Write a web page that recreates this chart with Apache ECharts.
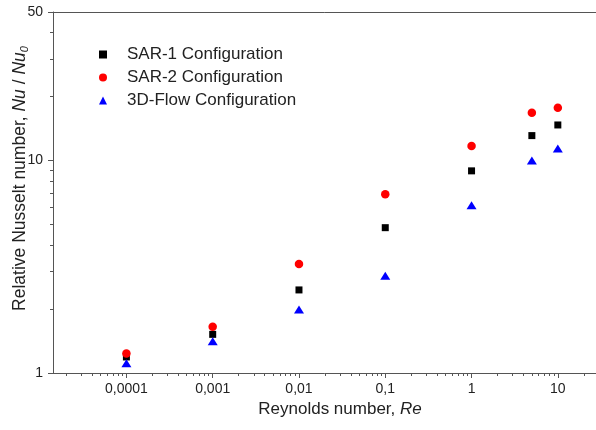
<!DOCTYPE html>
<html>
<head>
<meta charset="utf-8">
<script src="https://cdn.jsdelivr.net/npm/echarts@6/dist/echarts.min.js"></script>
<style>
  html, body { margin: 0; padding: 0; background: #fff; }
  #chart { width: 596px; height: 430px; }
</style>
</head>
<body>
<div id="chart"></div>
<script>
// Reynolds numbers (x) and relative Nusselt number per configuration
const reynolds = [0.0001, 0.001, 0.01, 0.1, 1, 5, 10];
const sar1 = [1.19, 1.52, 2.46, 4.83, 8.94, 13.1, 14.7];
const sar2 = [1.235, 1.65, 3.26, 6.94, 11.7, 16.8, 17.7];
const flow3d = [1.11, 1.41, 1.99, 2.87, 6.16, 10.0, 11.4];

const seriesNames = ['SAR-1 Configuration', 'SAR-2 Configuration', '3D-Flow Configuration'];

// tick positions
const xMajorTicks = [0.0001, 0.001, 0.01, 0.1, 1, 10];
const yMajorTicks = [1, 10, 50];
const yMinorTicks = [2, 3, 4, 5, 6, 7, 8, 9, 20, 30, 40];
const xMinorTicks = [];
[0.00001, 0.0001, 0.001, 0.01, 0.1, 1, 10].forEach(function (d) {
    for (let k = 2; k <= 9; k++) {
        xMinorTicks.push(+(k * d).toPrecision(3));
    }
});

const X_MIN = 1.41e-5, X_MAX = 30;
const Y_MIN = 1, Y_MAX = 50;

const FONT = '"Liberation Sans", Arial, sans-serif';
const AXIS_COLOR = '#555';
const TEXT_COLOR = '#222';

function pairs(values) {
    return reynolds.map(function (x, i) { return [x, values[i]]; });
}

let chart = echarts.init(document.getElementById('chart'));

// the second grid sits on top of the first one and only carries the minor ticks
let gridBox = {left: 53, right: -3, top: 12, bottom: 57, outerBoundsMode: 'none', containLabel: false, show: false};

chart.setOption({
    animation: false,
    backgroundColor: '#fff',
    textStyle: {fontFamily: FONT},
    grid: [
        Object.assign({}, gridBox),
        Object.assign({}, gridBox)
    ],
    legend: {
        orient: 'vertical',
        left: 99,
        top: 46,
        padding: 0,
        itemGap: 6,
        itemWidth: 8,
        itemHeight: 8,
        data: seriesNames,
        formatter: function (name) { return '{g| }' + name; },
        textStyle: {
            fontFamily: FONT,
            fontSize: 17,
            color: TEXT_COLOR,
            rich: {g: {width: 15}}
        }
    },
    xAxis: [
        {
            type: 'log',
            gridIndex: 0,
            position: 'bottom',
            min: X_MIN,
            max: X_MAX,
            axisLine: {show: true, lineStyle: {color: AXIS_COLOR, width: 1}},
            axisTick: {show: true, length: 5, customValues: xMajorTicks, lineStyle: {color: AXIS_COLOR}},
            axisLabel: {
                customValues: xMajorTicks,
                margin: 9,
                fontSize: 14,
                color: TEXT_COLOR,
                fontFamily: FONT,
                formatter: function (v) { return String(v).replace('.', ','); }
            },
            splitLine: {show: false},
            name: 'Reynolds number, {i|Re}',
            nameLocation: 'middle',
            nameGap: 28,
            nameTextStyle: {
                fontSize: 17,
                color: TEXT_COLOR,
                fontFamily: FONT,
                padding: [0, 0, 0, 28],
                rich: {i: {fontStyle: 'italic', fontSize: 17, color: TEXT_COLOR, fontFamily: FONT}}
            }
        },
        {
            type: 'log',
            gridIndex: 1,
            position: 'bottom',
            min: X_MIN,
            max: X_MAX,
            axisLine: {show: false},
            axisTick: {show: true, length: 3, customValues: xMinorTicks, lineStyle: {color: AXIS_COLOR}},
            axisLabel: {show: false},
            splitLine: {show: false}
        },
        {
            // top frame line
            type: 'log',
            gridIndex: 0,
            position: 'top',
            min: X_MIN,
            max: X_MAX,
            axisLine: {show: true, lineStyle: {color: AXIS_COLOR, width: 1}},
            axisTick: {show: false},
            axisLabel: {show: false},
            splitLine: {show: false}
        }
    ],
    yAxis: [
        {
            type: 'log',
            gridIndex: 0,
            min: Y_MIN,
            max: Y_MAX,
            axisLine: {show: true, lineStyle: {color: AXIS_COLOR, width: 1}},
            axisTick: {show: true, length: 5, customValues: yMajorTicks, lineStyle: {color: AXIS_COLOR}},
            axisLabel: {
                customValues: yMajorTicks,
                margin: 10,
                fontSize: 14,
                color: TEXT_COLOR,
                fontFamily: FONT
            },
            splitLine: {show: false},
            name: 'Relative Nusselt number, {i|Nu} / {i|Nu}{sub|0}',
            nameLocation: 'middle',
            nameGap: 23,
            nameMoveOverlap: false,
            nameTextStyle: {
                fontSize: 17.5,
                color: TEXT_COLOR,
                fontFamily: FONT,
                padding: [0, 0, 0, 28],
                rich: {
                    i: {fontStyle: 'italic', fontSize: 17.5, color: TEXT_COLOR, fontFamily: FONT},
                    sub: {fontStyle: 'italic', fontSize: 11, color: TEXT_COLOR, fontFamily: FONT,
                          verticalAlign: 'bottom', padding: [8, 0, 0, 0]}
                }
            }
        },
        {
            type: 'log',
            gridIndex: 1,
            min: Y_MIN,
            max: Y_MAX,
            axisLine: {show: false},
            axisTick: {show: true, length: 3, customValues: yMinorTicks, lineStyle: {color: AXIS_COLOR}},
            axisLabel: {show: false},
            splitLine: {show: false}
        }
    ],
    series: [
        {
            name: seriesNames[0],
            type: 'scatter',
            symbol: 'rect',
            symbolSize: 7,
            itemStyle: {color: '#000', opacity: 1},
            data: pairs(sar1)
        },
        {
            name: seriesNames[1],
            type: 'scatter',
            symbol: 'circle',
            symbolSize: 8.5,
            itemStyle: {color: '#ff0000', opacity: 1},
            data: pairs(sar2)
        },
        {
            name: seriesNames[2],
            type: 'scatter',
            symbol: 'triangle',
            symbolSize: [10, 8],
            itemStyle: {color: '#0000ff', opacity: 1},
            data: pairs(flow3d)
        }
    ]
});
</script>
</body>
</html>
